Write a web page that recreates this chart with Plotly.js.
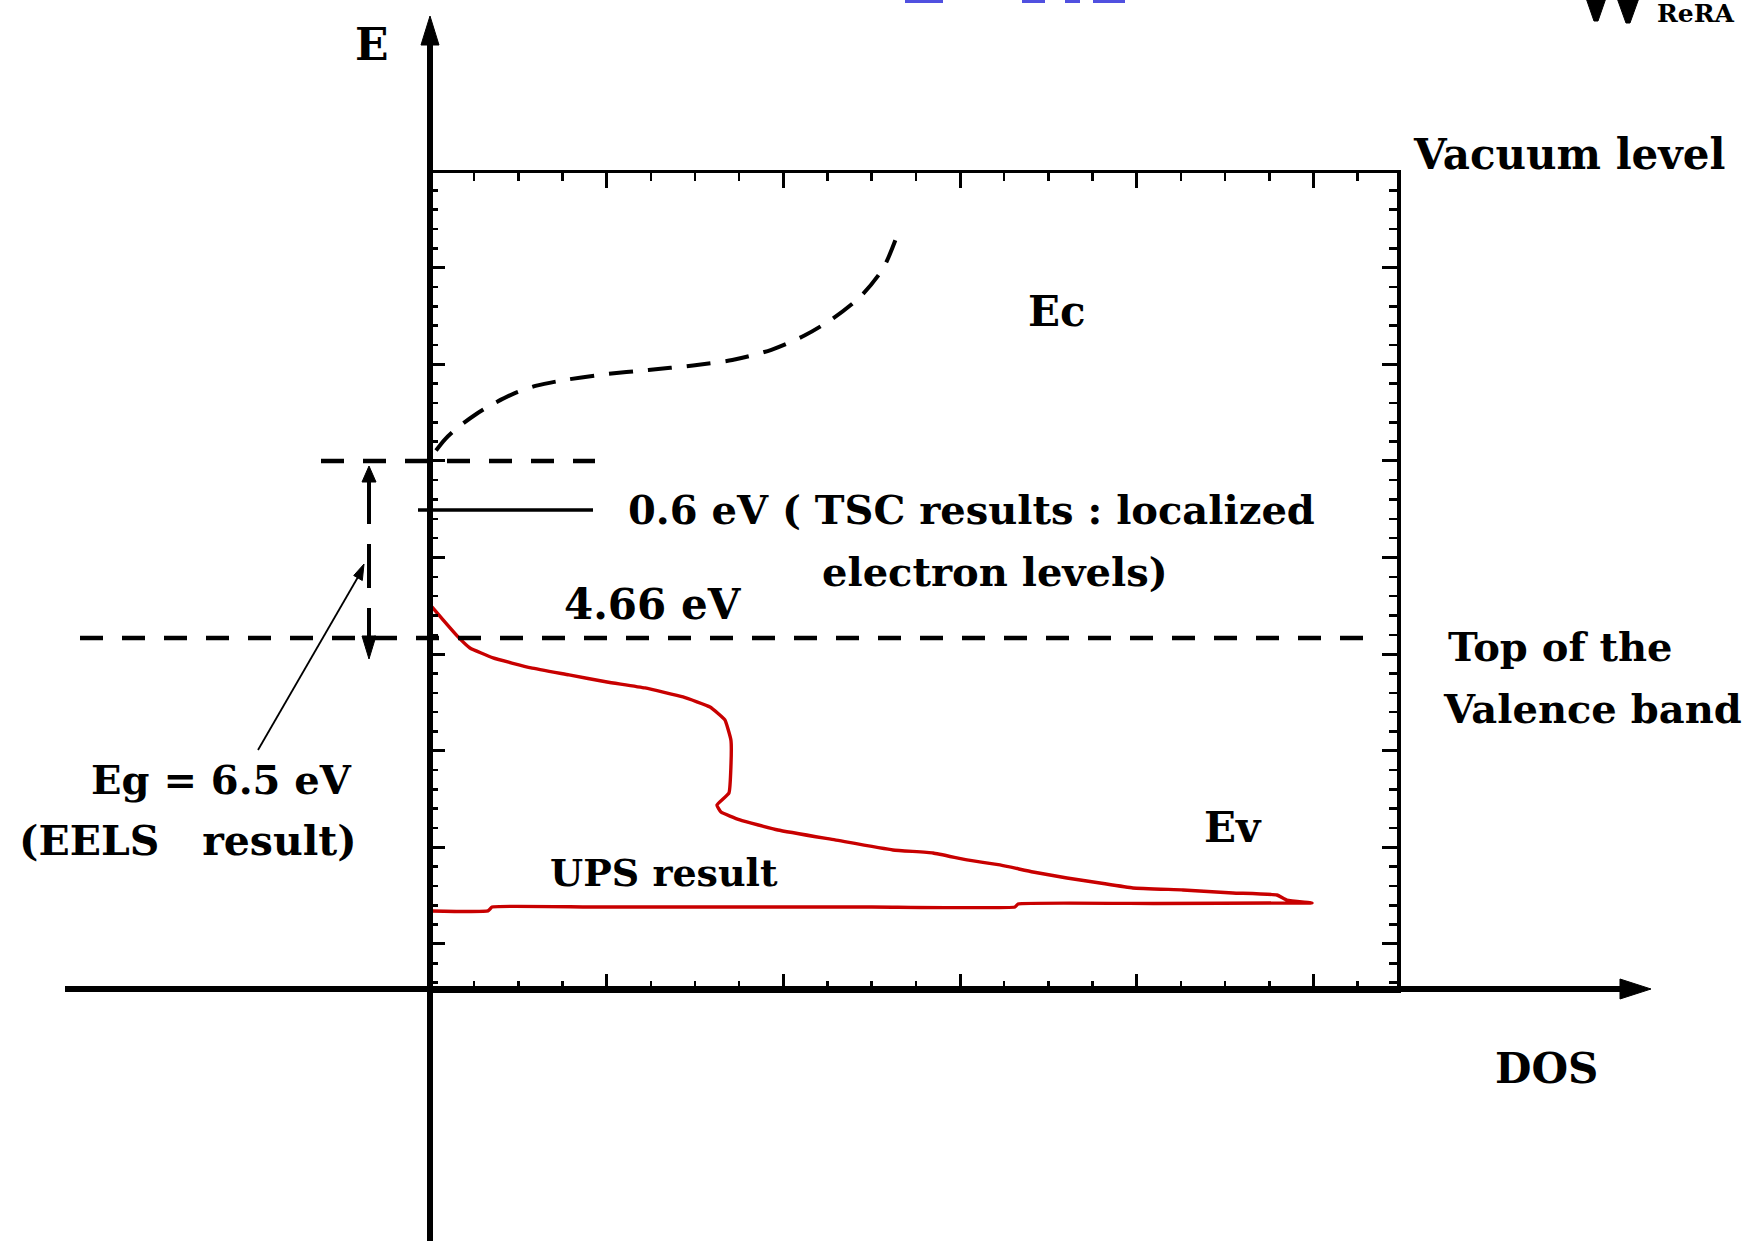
<!DOCTYPE html>
<html>
<head>
<meta charset="utf-8">
<script src="https://cdn.plot.ly/plotly-3.0.1.min.js"></script>
<style>
html,body{margin:0;padding:0;background:#ffffff;}
#chart{width:1753px;height:1241px;}
</style>
</head>
<body>
<div id="chart"></div>
<script>
// ---------------- data ----------------
// conduction-band DOS (dashed black curve): DOS units vs energy units
const ecDos    = [0.034, 0.085, 0.161, 0.256, 0.350, 0.477, 0.603, 0.762, 0.983, 1.236, 1.489, 1.711, 1.932, 2.122, 2.280, 2.438, 2.565, 2.641];
const ecEnergy = [5.108, 5.224, 5.351, 5.478, 5.583, 5.699, 5.779, 5.837, 5.895, 5.941, 5.988, 6.045, 6.150, 6.300, 6.474, 6.705, 6.995, 7.319];

// UPS result (red curve, one continuous loop)
const upsDos    = [0.011, 0.074, 0.164, 0.226, 0.357, 0.572, 0.787, 1.002, 1.217, 1.432, 1.585, 1.669, 1.703, 1.703, 1.692, 1.624, 1.647, 1.754, 1.969, 2.292, 2.620, 2.847, 3.039, 3.226, 3.413, 3.605, 3.792, 3.978, 4.262, 4.544, 4.793, 4.850, 4.992, 4.867, 4.100, 3.328, 3.311, 2.500, 1.700, 0.900, 0.351, 0.328, 0.011];
const upsEnergy = [3.489, 3.354, 3.168, 3.064, 2.961, 2.857, 2.785, 2.712, 2.650, 2.557, 2.453, 2.319, 2.112, 1.832, 1.563, 1.439, 1.366, 1.284, 1.180, 1.077, 0.973, 0.942, 0.870, 0.818, 0.745, 0.683, 0.631, 0.580, 0.559, 0.528, 0.507, 0.455, 0.424, 0.424, 0.419, 0.414, 0.383, 0.383, 0.383, 0.383, 0.383, 0.342, 0.342];

// energy levels (horizontal reference lines)
const levelNames  = ['Top of the valence band', 'Gap top (EELS)', 'TSC localized level'];
const levelEnergy = [3.168, 5.0, 4.493];

// text labels
const labelTexts = ['E', 'Vacuum level', 'Ec', '0.6 eV ( TSC results : localized', 'electron levels)', '4.66 eV',
                    'Top of the', 'Valence band', 'Eg = 6.5 eV', '(EELS\u00A0\u00A0 result)', 'Ev', 'UPS result', 'DOS'];

// ---------------- layout helpers ----------------
const W = 1753, H = 1241;
const ML = 430, MR = 356, MT = 173, MB = 252;
const PW = W - ML - MR, PH = H - MT - MB;
const fx = p => (p - ML) / PW;          // pixel x -> paper
const fy = p => (H - MB - p) / PH;      // pixel y -> paper

function path(pts) {
  return 'M ' + pts.map(p => fx(p[0]).toFixed(5) + ',' + fy(p[1]).toFixed(5)).join(' L ') + ' Z';
}

const FONT = {family: 'DejaVu Serif', size: 42, color: '#000', weight: 'bold'};

const traces = [
  {
    x: ecDos, y: ecEnergy, type: 'scatter', mode: 'lines', name: 'Ec',
    line: {color: '#000', width: 4, dash: '24px,15px', shape: 'spline', smoothing: 0.8},
    hoverinfo: 'skip', showlegend: false
  },
  {
    x: upsDos, y: upsEnergy, type: 'scatter', mode: 'lines', name: 'UPS result',
    line: {color: '#c80000', width: 3.4, shape: 'spline', smoothing: 0.35},
    hoverinfo: 'skip', showlegend: false
  }
];

const shapes = [
  // thick vertical energy axis
  {type: 'line', xref: 'paper', yref: 'paper', x0: fx(430), x1: fx(430), y0: fy(1250), y1: fy(40), line: {color: '#000', width: 6}},
  {type: 'path', xref: 'paper', yref: 'paper', path: path([[430, 16], [421, 45], [439, 45]]), fillcolor: '#000', line: {color: '#000', width: 1}},
  // thick horizontal DOS axis
  {type: 'line', xref: 'paper', yref: 'paper', x0: fx(65), x1: fx(1625), y0: fy(989), y1: fy(989), line: {color: '#000', width: 6}},
  {type: 'path', xref: 'paper', yref: 'paper', path: path([[1651, 989], [1620, 979], [1620, 999]]), fillcolor: '#000', line: {color: '#000', width: 1}},
  // top of the valence band (dashed)
  {type: 'line', xref: 'paper', yref: 'y', x0: fx(80), x1: fx(1372), y0: levelEnergy[0], y1: levelEnergy[0], line: {color: '#000', width: 4.5, dash: '23px,19px'}},
  // gap top (dashed, short)
  {type: 'line', xref: 'paper', yref: 'y', x0: fx(321), x1: fx(595), y0: levelEnergy[1], y1: levelEnergy[1], line: {color: '#000', width: 4.5, dash: '23px,19px'}},
  // TSC level (solid)
  {type: 'line', xref: 'paper', yref: 'y', x0: fx(418), x1: fx(593), y0: levelEnergy[2], y1: levelEnergy[2], line: {color: '#000', width: 3.5}},
  // vertical double arrow (Eg)
  {type: 'line', xref: 'paper', yref: 'paper', x0: fx(369), x1: fx(369), y0: fy(480), y1: fy(638), line: {color: '#000', width: 4, dash: '44px,20px'}},
  {type: 'path', xref: 'paper', yref: 'paper', path: path([[369, 466], [362, 482], [376, 482]]), fillcolor: '#000', line: {color: '#000', width: 1}},
  {type: 'path', xref: 'paper', yref: 'paper', path: path([[369, 659], [362, 636], [376, 636]]), fillcolor: '#000', line: {color: '#000', width: 1}},
  // thin pointer from Eg label
  {type: 'line', xref: 'paper', yref: 'paper', x0: fx(258), x1: fx(358), y0: fy(750), y1: fy(577), line: {color: '#000', width: 1.8}},
  {type: 'path', xref: 'paper', yref: 'paper', path: path([[364, 564], [362.3, 580.5], [353.7, 575.5]]), fillcolor: '#000', line: {color: '#000', width: 1}},
  // cropped logo marks (top right)
  {type: 'path', xref: 'paper', yref: 'paper', path: path([[1586, -2], [1606, -2], [1598, 21], [1594, 21]]), fillcolor: '#000', line: {color: '#000', width: 1}},
  {type: 'path', xref: 'paper', yref: 'paper', path: path([[1617, -2], [1639, -2], [1630, 23], [1626, 23]]), fillcolor: '#000', line: {color: '#000', width: 1}},
  // cropped blue link underlines (top)
  {type: 'rect', xref: 'paper', yref: 'paper', x0: fx(905), x1: fx(943), y0: fy(0), y1: fy(3), fillcolor: '#5050e0', line: {width: 0}},
  {type: 'rect', xref: 'paper', yref: 'paper', x0: fx(1022), x1: fx(1045), y0: fy(0), y1: fy(3), fillcolor: '#5050e0', line: {width: 0}},
  {type: 'rect', xref: 'paper', yref: 'paper', x0: fx(1065), x1: fx(1080), y0: fy(0), y1: fy(3), fillcolor: '#5050e0', line: {width: 0}},
  {type: 'rect', xref: 'paper', yref: 'paper', x0: fx(1093), x1: fx(1125), y0: fy(0), y1: fy(3), fillcolor: '#5050e0', line: {width: 0}}
];

function lab(i, px, py, xanchor, size) {
  return {
    text: labelTexts[i], xref: 'paper', yref: 'paper', x: fx(px), y: fy(py),
    xanchor: xanchor, yanchor: 'middle', showarrow: false,
    font: Object.assign({}, FONT, size ? {size: size} : {})
  };
}

const annotations = [
  lab(0, 372, 45, 'center', 44),
  lab(1, 1411, 154, 'left'),
  lab(2, 1057, 311, 'center'),
  lab(3, 626, 509, 'left', 40),
  lab(4, 820, 571, 'left', 40),
  lab(5, 562, 604, 'left'),
  lab(6, 1446, 646, 'left', 40),
  lab(7, 1441, 708, 'left', 40),
  lab(8, 89, 779, 'left', 40),
  lab(9, 17, 841, 'left', 41),
  lab(10, 1233, 827, 'center'),
  lab(11, 548, 872, 'left', 38),
  lab(12, 1546, 1068, 'center', 42),
  {text: 'ReRA', xref: 'paper', yref: 'paper', x: fx(1655), y: fy(13), xanchor: 'left', yanchor: 'middle',
   showarrow: false, font: {family: 'DejaVu Serif', size: 25, color: '#000', weight: 'bold'}}
];

const axisCommon = {
  showline: true, linecolor: '#000', linewidth: 3.5, mirror: 'ticks',
  ticks: 'inside', ticklen: 15, tickwidth: 3, tickcolor: '#000',
  showticklabels: false, showgrid: false, zeroline: false, fixedrange: true
};

const layout = {
  width: W, height: H,
  margin: {l: ML, r: MR, t: MT, b: MB, pad: 0},
  paper_bgcolor: '#fff', plot_bgcolor: '#fff',
  showlegend: false, hovermode: false,
  xaxis: Object.assign({}, axisCommon, {
    range: [0, 5.473], tick0: 0, dtick: 1,
    minor: {ticks: 'inside', ticklen: 8, tickwidth: 2.5, tickcolor: '#000', dtick: 0.25, showgrid: false}
  }),
  yaxis: Object.assign({}, axisCommon, {
    range: [-0.466, 7.98], tick0: 0, dtick: 1,
    minor: {ticks: 'inside', ticklen: 8, tickwidth: 2.5, tickcolor: '#000', dtick: 0.2, showgrid: false}
  }),
  shapes: shapes,
  annotations: annotations
};

Plotly.newPlot('chart', traces, layout, {displayModeBar: false, staticPlot: true});
</script>
</body>
</html>
